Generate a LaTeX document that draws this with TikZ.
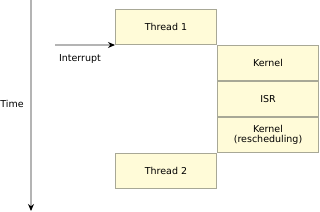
\documentclass[tikz,border=0pt]{standalone}
\usepackage{fontspec}
\setmainfont{DejaVu Sans}
\usetikzlibrary{arrows.meta, positioning}

\definecolor{boxfill}{HTML}{FFFBD8}
\definecolor{boxline}{HTML}{A8A896}
\definecolor{axisgray}{HTML}{B4B4B4}

\tikzset{
  slice/.style={draw=boxline, fill=boxfill, line width=1pt, minimum width=101pt,
    minimum height=35pt, inner sep=0pt, align=center, font=\fontsize{9.5}{10.5}\selectfont},
  timeline/.style={draw=axisgray, line width=1.5pt, -{Stealth[black, length=7pt, width=6pt]}},
  lbl/.style={font=\fontsize{9.5}{10.5}\selectfont}
}

\begin{document}
\begin{tikzpicture}[x=1pt, y=-1pt]
\useasboundingbox (0,0) rectangle (320,211);

% time axis
\coordinate (ttop) at (31,0);
\coordinate (tbot) at (31,211);
\draw[timeline] (ttop) -- (tbot);
\node[lbl] (time) at (12,104) {Time};

% running slices
\node[slice] (thread1) at (166,27) {Thread 1};
\node[slice, anchor=north west] (kernel) at (thread1.south east) {Kernel};
\node[slice, below=0pt of kernel] (isr) {ISR};
\node[slice, below=0pt of isr] (resched) {Kernel\\(rescheduling)};
\node[slice, anchor=north east] (thread2) at (resched.south west) {Thread 2};

% interrupt
\coordinate (irq) at (55,45);
\draw[timeline] (irq) -- (thread1.south west);
\node[lbl] (irqlbl) at (80,59) {Interrupt};
\end{tikzpicture}
\end{document}
